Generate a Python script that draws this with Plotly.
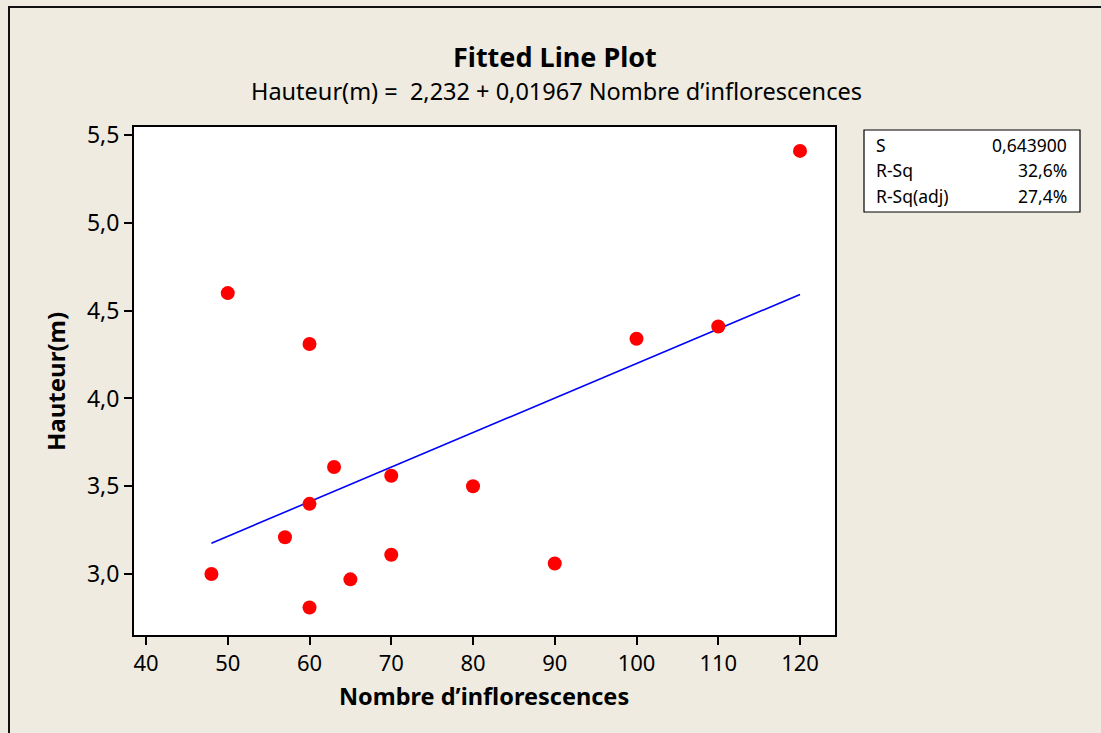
import plotly.graph_objects as go

# Data
nombre_inflorescences = [48, 50, 57, 60, 60, 60, 63, 65, 70, 70, 80, 90, 100, 110, 120]
hauteur_m = [3.00, 4.60, 3.21, 4.31, 3.40, 2.81, 3.61, 2.97, 3.56, 3.11, 3.50, 3.06, 4.34, 4.41, 5.41]

intercept = 2.232
slope = 0.01967
fit_x = [48, 120]
fit_y = [intercept + slope * v for v in fit_x]

stat_labels = ["S", "R-Sq", "R-Sq(adj)"]
stat_values = ["0,643900", "32,6%", "27,4%"]

x_ticks = [40, 50, 60, 70, 80, 90, 100, 110, 120]
y_ticks = [3.0, 3.5, 4.0, 4.5, 5.0, 5.5]

W, H = 1101, 733
L, R, T, B = 134, 835, 127, 635
FONT = "Noto Sans"
BG = "#EFEBE1"


def px(x):
    return (x - L) / (R - L)


def py(y):
    return (B - y) / (B - T)


fig = go.Figure()
fig.add_trace(go.Scatter(x=fit_x, y=fit_y, mode="lines",
                         line=dict(color="#0000FF", width=1.6), hoverinfo="skip"))
fig.add_trace(go.Scatter(x=nombre_inflorescences, y=hauteur_m, mode="markers",
                         marker=dict(color="#FF0000", size=14, line=dict(width=0))))

annotations = [
    dict(text="<b>Fitted Line Plot</b>", x=px(555), y=py(56), xref="paper", yref="paper",
         showarrow=False, font=dict(family=FONT, size=27, color="black"), xanchor="center", yanchor="middle"),
    dict(text="Hauteur(m) =  2,232 + 0,01967 Nombre d\u2019inflorescences", x=px(556), y=py(91),
         xref="paper", yref="paper", showarrow=False,
         font=dict(family=FONT, size=23.5, color="black"), xanchor="center", yanchor="middle"),
    dict(text="<b>Nombre d\u2019inflorescences</b>", x=px(484), y=py(696), xref="paper", yref="paper",
         showarrow=False, font=dict(family=FONT, size=23.5, color="black"), xanchor="center", yanchor="middle"),
    dict(text="<b>Hauteur(m)</b>", x=px(55), y=py(382), xref="paper", yref="paper", textangle=-90,
         showarrow=False, font=dict(family=FONT, size=24, color="black"), xanchor="center", yanchor="middle"),
]
row_y = [145, 170, 196]
for lab, val, ry in zip(stat_labels, stat_values, row_y):
    annotations.append(dict(text=lab, x=px(874), y=py(ry), xref="paper", yref="paper", showarrow=False,
                            font=dict(family=FONT, size=17.5, color="black"), xanchor="left", yanchor="middle"))
    annotations.append(dict(text=val, x=px(1069), y=py(ry), xref="paper", yref="paper", showarrow=False,
                            font=dict(family=FONT, size=17.5, color="black"), xanchor="right", yanchor="middle"))

shapes = [
    dict(type="rect", xref="paper", yref="paper", x0=px(864), x1=px(1080), y0=py(130), y1=py(212),
         line=dict(color="black", width=1.2), fillcolor="white", layer="below"),
    dict(type="line", xref="paper", yref="paper", x0=px(9), x1=px(9), y0=py(6), y1=py(740),
         line=dict(color="#111111", width=2)),
    dict(type="line", xref="paper", yref="paper", x0=px(8), x1=px(1110), y0=py(7), y1=py(7),
         line=dict(color="#111111", width=2)),
]

fig.update_layout(
    width=W, height=H,
    margin=dict(l=L, r=W - R, t=T, b=H - B),
    paper_bgcolor=BG, plot_bgcolor="white",
    showlegend=False,
    separators=", ",
    font=dict(family=FONT, color="black"),
    annotations=annotations,
    shapes=shapes,
    xaxis=dict(range=[38.53, 124.28], tickvals=x_ticks, showgrid=False, zeroline=False,
               showline=True, linecolor="black", linewidth=2, mirror=True,
               ticks="outside", ticklen=8, tickwidth=1.5, tickcolor="black",
               tickfont=dict(family=FONT, size=22, color="black")),
    yaxis=dict(range=[2.653, 5.546], tickvals=y_ticks, tickformat=".1f", showgrid=False, zeroline=False,
               showline=True, linecolor="black", linewidth=2, mirror=True,
               ticks="outside", ticklen=8, tickwidth=1.5, tickcolor="black",
               tickfont=dict(family=FONT, size=23, color="black")),
)

fig.write_html("out.html")
